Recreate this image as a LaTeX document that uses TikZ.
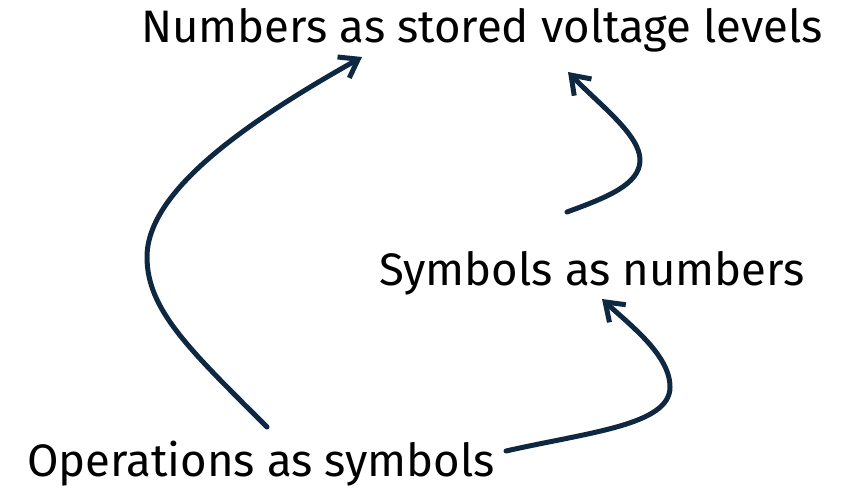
\documentclass[tikz,border=0pt]{standalone}
\usepackage{fontspec}
\setmainfont{Fira Sans}
\usetikzlibrary{positioning,arrows.meta}
\definecolor{navy}{HTML}{0E2841}

\begin{document}
\begin{tikzpicture}[
    x=1pt, y=-1pt,
    tag/.style={anchor=base west, inner sep=0pt, font=\fontsize{45.5}{52}\selectfont},
    seta/.style={draw=navy, line width=5pt, line cap=round, line join=round, -{Straight Barb[length=17pt,width=24pt]}}
]
\useasboundingbox (0,0) rectangle (851,488);

% Niveaus
\node[tag] (numeros) at (141,42) {Numbers as stored voltage levels};
\node[tag] (simbolos) at (379,285) {Symbols as numbers};
\node[tag] (operacoes) at (27,476) {Operations as symbols};

% Pontos das curvas
\coordinate (op_topo) at (267,427);
\coordinate (op_dir) at (506,451);
\coordinate (sim_baixo) at (602,299);
\coordinate (sim_topo) at (567,212);
\coordinate (num_esq) at (362,57);
\coordinate (num_dir) at (568,72);

\draw[seta] (op_topo) .. controls (190,350) and (147,310) .. (147,257)
    .. controls (147,190) and (250,120) .. (num_esq);
\draw[seta] (op_dir) .. controls (590,432) and (670,425) .. (670,387)
    .. controls (670,355) and (630,325) .. (sim_baixo);
\draw[seta] (sim_topo) .. controls (605,198) and (640,185) .. (640,160)
    .. controls (640,135) and (600,105) .. (num_dir);

\end{tikzpicture}
\end{document}
